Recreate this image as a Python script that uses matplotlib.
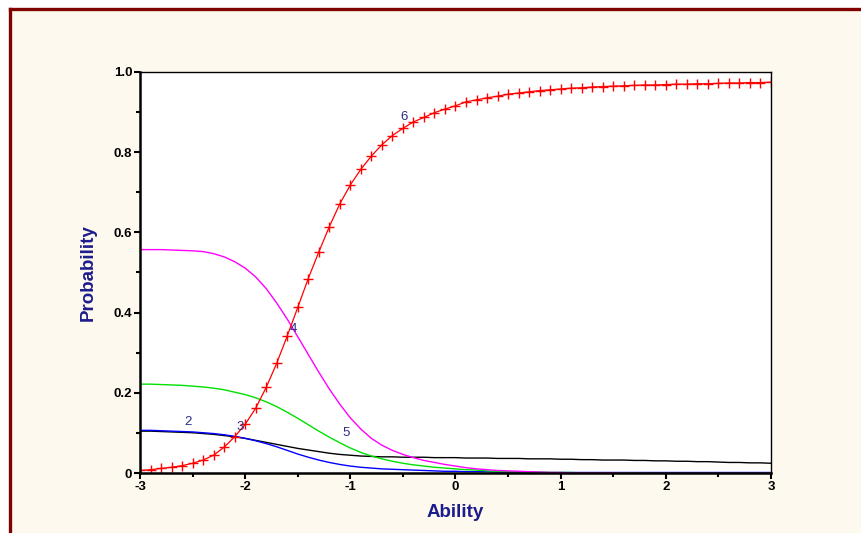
import numpy as np
import matplotlib
matplotlib.use("Agg")
import matplotlib.pyplot as plt
from matplotlib.lines import Line2D
from matplotlib.patches import Rectangle
from matplotlib.ticker import MultipleLocator, FixedLocator, FixedFormatter

plt.rcParams['font.family'] = ['Liberation Sans', 'DejaVu Sans']
plt.rcParams['axes.unicode_minus'] = False

# ability grid, step 0.1 from -3 to 3 (61 points)
ability = np.round(np.arange(-30, 31) / 10.0, 1)

# category 6 (red, with + markers)
p6 = [0.007, 0.009, 0.012, 0.015, 0.019, 0.025, 0.033, 0.045, 0.065, 0.091,
      0.122, 0.162, 0.214, 0.274, 0.342, 0.413, 0.485, 0.551, 0.614, 0.671,
      0.718, 0.757, 0.790, 0.818, 0.841, 0.859, 0.875, 0.886, 0.898, 0.907,
      0.915, 0.925, 0.930, 0.935, 0.939, 0.944, 0.947, 0.950, 0.953, 0.955,
      0.957, 0.959, 0.960, 0.962, 0.963, 0.964, 0.965, 0.966, 0.967, 0.967,
      0.968, 0.969, 0.969, 0.970, 0.970, 0.971, 0.972, 0.972, 0.973, 0.973,
      0.974]
# category 4 (magenta)
p4 = [0.557, 0.557, 0.557, 0.556, 0.555, 0.554, 0.552, 0.547, 0.539, 0.527,
      0.511, 0.489, 0.460, 0.424, 0.384, 0.340, 0.296, 0.252, 0.210, 0.172,
      0.138, 0.110, 0.087, 0.070, 0.057, 0.047, 0.039, 0.032, 0.027, 0.022,
      0.018, 0.014, 0.011, 0.009, 0.007, 0.006, 0.005, 0.004, 0.003, 0.002,
      0.002, 0.001, 0.001, 0.001, 0.001, 0.001, 0.000, 0.000, 0.000, 0.000,
      0.000, 0.000, 0.000, 0.000, 0.000, 0.000, 0.000, 0.000, 0.000, 0.000,
      0.000]
# category 5 (green)
p5 = [0.222, 0.222, 0.221, 0.220, 0.219, 0.217, 0.215, 0.212, 0.208, 0.202,
      0.196, 0.188, 0.178, 0.166, 0.152, 0.137, 0.121, 0.105, 0.090, 0.076,
      0.063, 0.052, 0.043, 0.036, 0.030, 0.025, 0.021, 0.018, 0.015, 0.013,
      0.011, 0.009, 0.008, 0.006, 0.005, 0.004, 0.004, 0.003, 0.003, 0.002,
      0.002, 0.002, 0.001, 0.001, 0.001, 0.001, 0.001, 0.001, 0.000, 0.000,
      0.000, 0.000, 0.000, 0.000, 0.000, 0.000, 0.000, 0.000, 0.000, 0.000,
      0.000]
# category 2 (blue)
p2 = [0.107, 0.107, 0.106, 0.105, 0.104, 0.103, 0.101, 0.099, 0.096, 0.092,
      0.087, 0.081, 0.074, 0.066, 0.057, 0.048, 0.040, 0.033, 0.027, 0.022,
      0.018, 0.015, 0.013, 0.011, 0.010, 0.009, 0.008, 0.007, 0.006, 0.005,
      0.005, 0.004, 0.004, 0.004, 0.003, 0.003, 0.003, 0.003, 0.002, 0.002,
      0.002, 0.002, 0.002, 0.002, 0.002, 0.002, 0.002, 0.002, 0.002, 0.002,
      0.002, 0.002, 0.002, 0.002, 0.002, 0.002, 0.002, 0.002, 0.002, 0.002,
      0.002]
# category 3 (black)
p3 = [0.105, 0.105, 0.104, 0.103, 0.102, 0.101, 0.099, 0.097, 0.094, 0.091,
      0.087, 0.082, 0.077, 0.072, 0.067, 0.062, 0.058, 0.054, 0.050, 0.047,
      0.045, 0.043, 0.042, 0.041, 0.041, 0.040, 0.040, 0.040, 0.039, 0.039,
      0.039, 0.038, 0.038, 0.038, 0.037, 0.037, 0.037, 0.036, 0.036, 0.036,
      0.035, 0.035, 0.034, 0.034, 0.033, 0.033, 0.033, 0.032, 0.032, 0.031,
      0.031, 0.030, 0.030, 0.029, 0.029, 0.028, 0.027, 0.027, 0.026, 0.026,
      0.025]

# curve labels: text, x, y
curve_labels = ["2", "3", "4", "5", "6"]
label_x = [-2.545, -2.045, -1.543, -1.041, -0.486]
label_y = [0.128, 0.115, 0.360, 0.100, 0.888]

x_ticks = [-3, -2, -1, 0, 1, 2, 3]
y_ticks = [0, 0.2, 0.4, 0.6, 0.8, 1.0]
y_tick_labels = ["0", "0.2", "0.4", "0.6", "0.8", "1.0"]

W, H = 862, 533
fig = plt.figure(figsize=(W / 100, H / 100), dpi=100)
fig.patch.set_facecolor('white')

# cream panel with dark red frame on top/left
fig.patches.append(Rectangle((10.5 / W, 0), 1, 1 - 8.5 / H, transform=fig.transFigure,
                             facecolor='#FEF9EE', edgecolor='none', zorder=-5))
fig.lines.append(Line2D([10.5 / W, 1], [1 - 8.5 / H] * 2, transform=fig.transFigure,
                        color='#800000', lw=2.4, zorder=-4))
fig.lines.append(Line2D([10.5 / W] * 2, [0, 1 - 8.5 / H], transform=fig.transFigure,
                        color='#800000', lw=2.4, zorder=-4))

ax = fig.add_axes([140 / W, (H - 473.3) / H, (771 - 140) / W, (473.3 - 71.7) / H])
ax.set_zorder(1)
ax.set_facecolor('white')

ax.plot(ability, p3, color='black', lw=1.0)
ax.plot(ability, p2, color='#0000FF', lw=1.0)
ax.plot(ability, p5, color='#00E000', lw=1.0)
ax.plot(ability, p4, color='#FF00FF', lw=1.0)
ax.plot(ability, p6, color='#FF0000', lw=0.9, marker='+', ms=7.5, mew=1.0)

for t, lx, ly in zip(curve_labels, label_x, label_y):
    ax.text(lx, ly, t, color='#2B2B8C', fontsize=9.5, ha='center', va='center')

ax.set_xlim(-3, 3)
ax.set_ylim(0, 1)
ax.xaxis.set_major_locator(FixedLocator(x_ticks))
ax.xaxis.set_minor_locator(MultipleLocator(0.5))
ax.yaxis.set_major_locator(FixedLocator(y_ticks))
ax.yaxis.set_major_formatter(FixedFormatter(y_tick_labels))
ax.yaxis.set_minor_locator(MultipleLocator(0.1))

for s in ['left', 'bottom']:
    ax.spines[s].set_linewidth(1.8)
for s in ['top', 'right']:
    ax.spines[s].set_linewidth(1.0)

ax.tick_params(which='major', direction='out', length=4, width=1.5,
               labelsize=9.5, pad=1.5, top=False, right=False)
ax.tick_params(which='minor', direction='out', length=3, width=1.5,
               top=False, right=False)
for lab in ax.get_xticklabels() + ax.get_yticklabels():
    lab.set_fontweight('bold')

ax.set_xlabel('Ability', fontsize=13.5, fontweight='bold', color='#1C1C8C', labelpad=8)
ax.set_ylabel('Probability', fontsize=13.5, fontweight='bold', color='#1C1C8C', labelpad=12)

fig.savefig('out.png', dpi=100, facecolor=fig.get_facecolor())
